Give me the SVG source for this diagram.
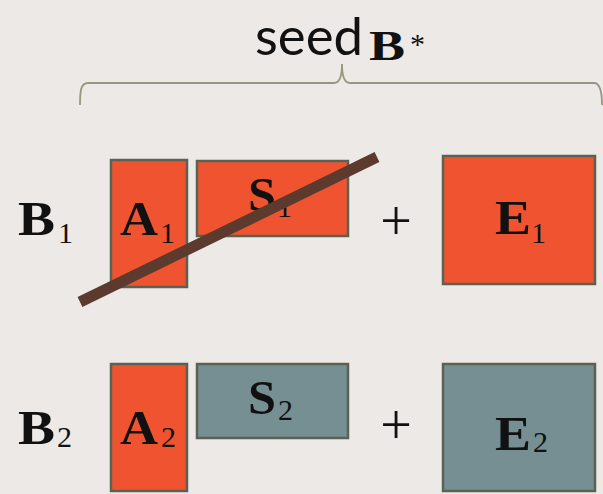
<svg xmlns="http://www.w3.org/2000/svg" width="603" height="494" viewBox="0 0 603 494">
<style>
.bg{fill:#ede9e6}
.or{fill:#f05330;stroke:#5b6253;stroke-width:2.5}
.tl{fill:#758f93;stroke:#5b6253;stroke-width:2.5}
.m{font-family:"Liberation Serif",serif;font-weight:bold;font-size:48px;fill:#111}
.s{font-family:"Liberation Serif",serif;font-size:30px;fill:#111}
.p{font-family:"Liberation Serif",serif;font-size:56px;fill:#111;text-anchor:middle}
.brace{fill:none;stroke:#9a9580;stroke-width:1.8}
</style>
<rect class="bg" x="0" y="0" width="603" height="494"/>
<g id="title">
<text x="255" y="55" font-family="Lato, sans-serif" font-size="52" fill="#111" textLength="108" lengthAdjust="spacingAndGlyphs">seed</text>
<text x="369" y="60" font-family="Liberation Serif, serif" font-weight="bold" font-size="42" fill="#111" textLength="36" lengthAdjust="spacingAndGlyphs">B</text>
<text x="410" y="54" font-family="Liberation Serif, serif" font-size="30" fill="#111">*</text>
</g>
<g id="brace">
<path class="brace" d="M80,105 C80,90 81,83 88,83 L334,83 C339,83 342,78 342,64 C342,78 345,83 350,83 L594,83 C599,83 602,88 602,105"/>
</g>
<g id="B1"><text class="m" x="18" y="235" textLength="37" lengthAdjust="spacingAndGlyphs">B</text><text class="s" x="58" y="243">1</text></g>
<g id="A1"><rect class="or" x="111" y="160" width="76" height="127"/><text class="m" x="120" y="235" textLength="38" lengthAdjust="spacingAndGlyphs">A</text><text class="s" x="160" y="243">1</text></g>
<g id="S1"><rect class="or" x="197" y="161" width="151" height="75"/><text class="m" x="248" y="211" textLength="28" lengthAdjust="spacingAndGlyphs">S</text><text class="s" x="277" y="217">1</text></g>
<g id="plus1"><text class="p" x="396" y="240">+</text></g>
<g id="E1"><rect class="or" x="443" y="156" width="152" height="128"/><text class="m" x="495" y="234" textLength="36" lengthAdjust="spacingAndGlyphs">E</text><text class="s" x="531" y="243">1</text></g>
<g id="strike"><line x1="80" y1="302" x2="377" y2="157" stroke="#5c3b2e" stroke-width="11"/></g>
<g id="B2"><text class="m" x="18" y="444" textLength="37" lengthAdjust="spacingAndGlyphs">B</text><text class="s" x="57" y="447">2</text></g>
<g id="A2"><rect class="or" x="111" y="364" width="76" height="127"/><text class="m" x="120" y="444" textLength="38" lengthAdjust="spacingAndGlyphs">A</text><text class="s" x="161" y="447">2</text></g>
<g id="S2"><rect class="tl" x="197" y="364" width="151" height="74"/><text class="m" x="248" y="414" textLength="28" lengthAdjust="spacingAndGlyphs">S</text><text class="s" x="278" y="420">2</text></g>
<g id="plus2"><text class="p" x="396" y="444">+</text></g>
<g id="E2"><rect class="tl" x="443" y="364" width="152" height="127"/><text class="m" x="495" y="450" textLength="36" lengthAdjust="spacingAndGlyphs">E</text><text class="s" x="533" y="452">2</text></g>
</svg>
